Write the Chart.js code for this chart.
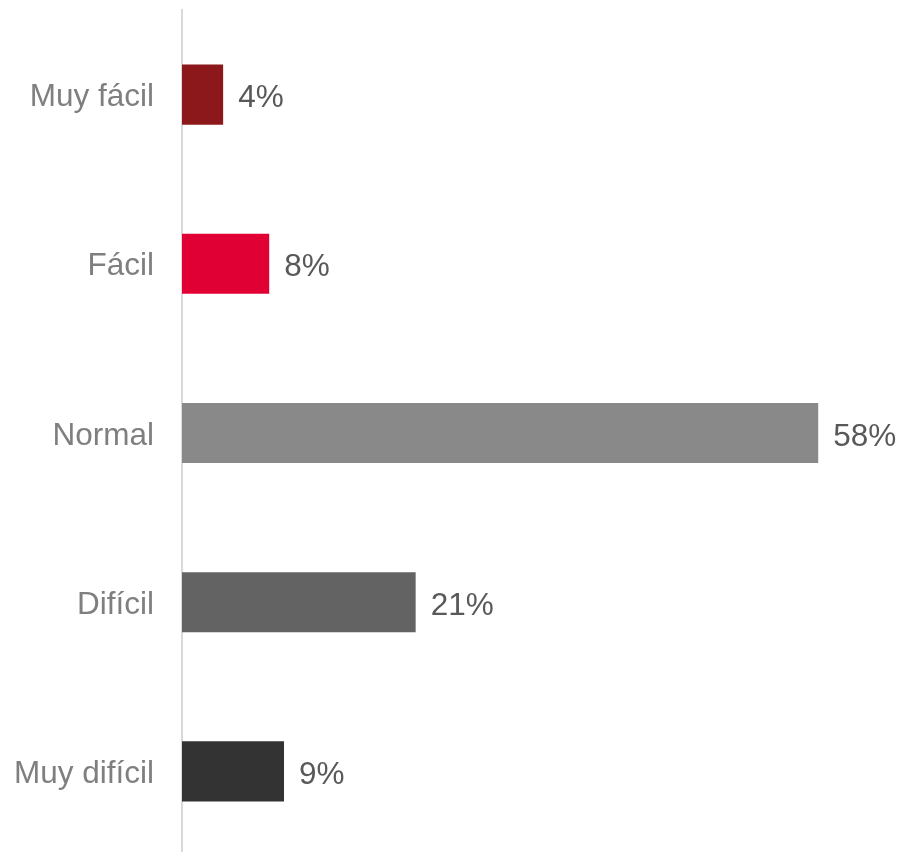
<!DOCTYPE html>
<html>
<head>
<meta charset="utf-8">
<script src="https://cdn.jsdelivr.net/npm/chart.js@4"></script>
<style>
  html, body { margin: 0; padding: 0; background: #fff; overflow: hidden; }
  #wrap { width: 901px; height: 856px; }
</style>
</head>
<body>
<div id="wrap"><canvas id="grafico" width="901" height="856"></canvas></div>
<script>
const categorias = ['Muy fácil', 'Fácil', 'Normal', 'Difícil', 'Muy difícil'];
const valores = [3.75, 7.95, 58, 21.3, 9.3];
const colores = ['#8C181B', '#E00034', '#898989', '#636363', '#333333'];

// etiquetas de valor a la derecha de cada barra
const etiquetas = {
    id: 'etiquetas',
    afterDatasetsDraw(chart) {
        const ctx = chart.ctx;
        const meta = chart.getDatasetMeta(0);
        ctx.save();
        ctx.font = '31.5px "Liberation Sans", Arial, sans-serif';
        ctx.fillStyle = '#595959';
        ctx.textAlign = 'left';
        ctx.textBaseline = 'middle';
        meta.data.forEach((bar, i) => {
            ctx.fillText(Math.round(valores[i]) + '%', bar.x + 15, bar.y + 4);
        });
        ctx.restore();
    }
};

const ctx = document.getElementById('grafico').getContext('2d');
new Chart(ctx, {
    type: 'bar',
    data: {
        labels: categorias,
        datasets: [{
            data: valores,
            backgroundColor: colores,
            borderWidth: 0,
            categoryPercentage: 1,
            barPercentage: 0.355
        }]
    },
    options: {
        indexAxis: 'y',
        responsive: false,
        animation: false,
        layout: { padding: { top: 10, right: 6, bottom: 0, left: 0 } },
        plugins: {
            legend: { display: false },
            tooltip: { enabled: false }
        },
        scales: {
            x: {
                display: false,
                min: 0,
                max: 65
            },
            y: {
                afterFit(scale) {
                    scale.width = 182;
                    scale.paddingTop = 0;
                    scale.paddingBottom = 0;
                },
                grid: { display: false, drawTicks: false },
                border: { display: true, color: '#D9D9D9', width: 2 },
                ticks: {
                    padding: 28,
                    labelOffset: 3,
                    color: '#7F7F7F',
                    font: { family: '"Liberation Sans", Arial, sans-serif', size: 31.5 }
                }
            }
        }
    },
    plugins: [etiquetas]
});
</script>
</body>
</html>
